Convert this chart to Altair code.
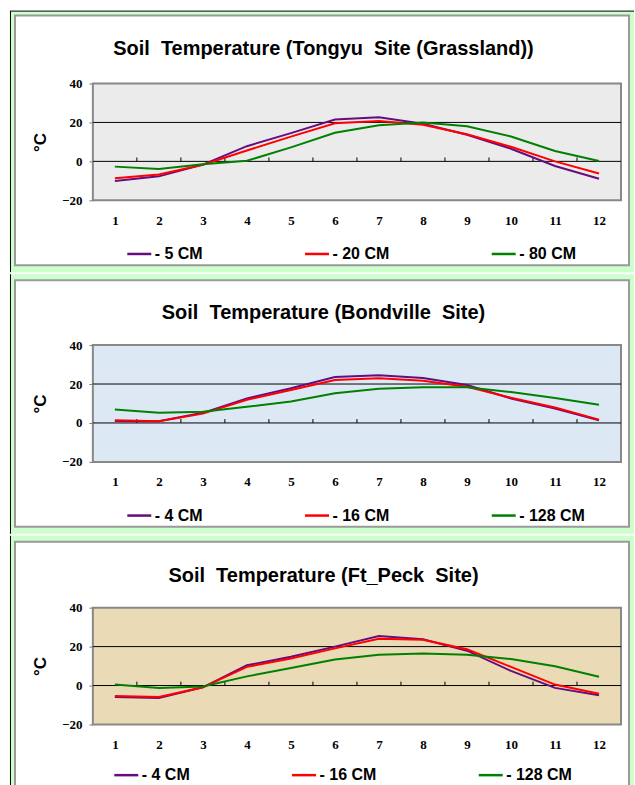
import altair as alt
import pandas as pd

months = list(range(1, 13))
x_boundaries = [1.5, 2.5, 3.5, 4.5, 5.5, 6.5, 7.5, 8.5, 9.5, 10.5, 11.5]
y_ticks = [-20, 0, 20, 40]
line_colors = ["#650c80", "#ff0000", "#008000"]

# Tongyu Site (Grassland)
tongyu_title = "Soil\u00a0 Temperature (Tongyu\u00a0 Site (Grassland))"
tongyu_labels = ["- 5 CM", "- 20 CM", "- 80 CM"]
tongyu_5 = [-10.1, -7.7, -1.7, 7.8, 14.5, 21.5, 22.6, 19.3, 13.7, 6.5, -2.4, -8.9]
tongyu_20 = [-8.7, -6.7, -1.7, 5.6, 12.7, 19.6, 20.7, 18.8, 13.9, 7.5, 0.0, -6.2]
tongyu_80 = [-2.7, -3.9, -1.5, 0.3, 7.2, 14.7, 18.6, 20.0, 18.0, 12.8, 5.3, 0.2]

# Bondville Site
bond_title = "Soil\u00a0 Temperature (Bondville\u00a0 Site)"
bond_labels = ["- 4 CM", "- 16 CM", "- 128 CM"]
bond_4 = [1.0, 0.9, 5.2, 12.6, 17.8, 23.6, 24.5, 23.1, 19.5, 12.6, 7.4, 1.4]
bond_16 = [1.4, 0.9, 4.8, 11.9, 16.9, 22.1, 22.9, 21.7, 18.6, 12.9, 7.9, 1.7]
bond_128 = [6.9, 5.3, 5.7, 8.3, 11.0, 15.3, 17.6, 18.3, 18.3, 15.9, 12.8, 9.3]

# Ft_Peck Site
peck_title = "Soil\u00a0 Temperature (Ft_Peck\u00a0 Site)"
peck_labels = ["- 4 CM", "- 16 CM", "- 128 CM"]
peck_4 = [-5.9, -6.4, -0.9, 10.4, 14.8, 20.0, 25.4, 23.8, 17.9, 7.5, -1.2, -5.0]
peck_16 = [-5.4, -5.9, -0.9, 9.6, 13.9, 19.1, 24.0, 23.5, 18.6, 9.6, 0.5, -4.2]
peck_128 = [0.5, -1.2, -0.5, 4.7, 9.0, 13.4, 15.8, 16.5, 15.8, 13.6, 9.9, 4.5]

W, H = 529, 117
one = pd.DataFrame({"k": [0]})
GREEN_BG = "#ccffcc"

XAXIS = alt.Axis(
    values=months, format="d", orient="bottom", domain=False, ticks=False,
    grid=False, labelFont="Liberation Serif", labelFontWeight="bold",
    labelFontSize=13, labelColor="black", labelPadding=14,
    labelFlush=False, labelOverlap=False, title=None, zindex=1)
YAXIS = alt.Axis(
    values=y_ticks, grid=False, domain=False, tickSize=4,
    tickColor="#808080", labelFont="Liberation Serif",
    labelFontWeight="bold", labelFontSize=13, labelColor="black",
    labelPadding=7, labelOverlap=False, labelFlush=False,
    title="°C", titleFont="Liberation Sans",
    titleFontSize=17, titleFontWeight="bold", titleColor="black",
    titleAngle=270, titleX=-52, titleY=58.5, titleAlign="center",
    titleBaseline="middle", zindex=1)


def rect(x, x2, y, y2, **kw):
    return alt.Chart(one).mark_rect(**kw).encode(
        x=alt.value(x), x2=alt.value(x2), y=alt.value(y), y2=alt.value(y2)
    )


def rule(x, x2, y, y2, **kw):
    return alt.Chart(one).mark_rule(**kw).encode(
        x=alt.value(x), x2=alt.value(x2), y=alt.value(y), y2=alt.value(y2)
    )


def panel(title, labels, series, fill, cell, green_top, card, card_bottom_border,
          top_line, title_y, legend_x, legend_y):
    cy0, cy1 = cell
    ky0, ky1 = card
    layers = [
        rect(-93, 542, cy0, cy1, fill="white"),
        rect(-82.5, 542, green_top, cy1, fill=GREEN_BG),
        rule(-82.5, -82.5, green_top, cy1, color="black", strokeWidth=1),
    ]
    if top_line:
        layers.append(rule(-83, 542, green_top, green_top, color="black", strokeWidth=1))
    layers.append(rect(-78, 537, ky0, ky1, fill="white"))
    layers.append(rule(-78, -78, ky0, ky1, color="#9a9a9a", strokeWidth=2))
    layers.append(rule(537, 537, ky0, ky1, color="#9a9a9a", strokeWidth=2))
    layers.append(rule(-79, 538, ky0, ky0, color="#9a9a9a", strokeWidth=2))
    if card_bottom_border:
        layers.append(rule(-79, 538, ky1, ky1, color="#9a9a9a", strokeWidth=2))
    layers.append(rect(0, W, 0, H, fill=fill, stroke="#888888", strokeWidth=2))

    layers.append(alt.Chart(pd.DataFrame({"t": [title]})).mark_text(
        font="Liberation Sans", fontSize=20, fontWeight="bold", color="black",
        align="center", baseline="middle").encode(
        text="t:N", x=alt.value(231), y=alt.value(title_y)))

    rows = []
    for lab, vals in zip(labels, series):
        for m, v in zip(months, vals):
            rows.append({"month": m, "value": v, "depth": lab})
    df = pd.DataFrame(rows)

    xscale = alt.Scale(domain=[0.5, 12.5], nice=False, zero=False)
    yscale = alt.Scale(domain=[-20, 40], nice=False, zero=False)

    ref = pd.DataFrame({"value": [20, 0]})
    grid = alt.Chart(ref).mark_rule(color="black", strokeWidth=1).encode(
        y=alt.Y("value:Q", scale=yscale, axis=YAXIS))
    ticks = alt.Chart(pd.DataFrame({"month": x_boundaries, "value": [0] * 11,
                                    "top": [2] * 11})).mark_rule(
        color="black", strokeWidth=1).encode(
        x=alt.X("month:Q", scale=xscale, axis=XAXIS),
        y=alt.Y("value:Q", scale=yscale, axis=YAXIS),
        y2="top:Q",
    )

    lines = alt.Chart(df).mark_line(strokeWidth=2).encode(
        x=alt.X("month:Q", scale=xscale, axis=XAXIS),
        y=alt.Y("value:Q", scale=yscale, axis=YAXIS),
        color=alt.Color("depth:N", sort=labels,
                        scale=alt.Scale(domain=labels, range=line_colors),
                        legend=alt.Legend(
                            title=None, orient="none", legendX=legend_x,
                            legendY=legend_y, direction="horizontal", columns=3,
                            columnPadding=97, symbolType="stroke",
                            symbolSize=576, symbolStrokeWidth=2.5,
                            labelFont="Liberation Sans", labelFontSize=16,
                            labelFontWeight="bold", labelColor="black",
                            labelOffset=2, padding=0, labelLimit=200,
                            zindex=1)),
    )

    layers += [grid, ticks, lines]
    return alt.layer(*layers).properties(width=W, height=H)


p1 = panel(tongyu_title, tongyu_labels, [tongyu_5, tongyu_20, tongyu_80],
           "#ebebeb", (-83, 189), -72.5, (-68, 182), True, True, -35, 33, 157)
p2 = panel(bond_title, bond_labels, [bond_4, bond_16, bond_128],
           "#dce9f5", (-71, 189), -71, (-65, 182), True, False, -32, 33, 157)
p3 = panel(peck_title, peck_labels, [peck_4, peck_16, peck_128],
           "#eadbb6", (-72, 181), -72, (-66, 181), False, False, -32, 20, 154)

chart = alt.vconcat(p1, p2, p3, spacing=0).properties(
    padding=0, background="white"
).configure_view(strokeWidth=0).resolve_scale(color="independent")

chart.save("out.html", embed_options={"renderer": "svg", "actions": False})
